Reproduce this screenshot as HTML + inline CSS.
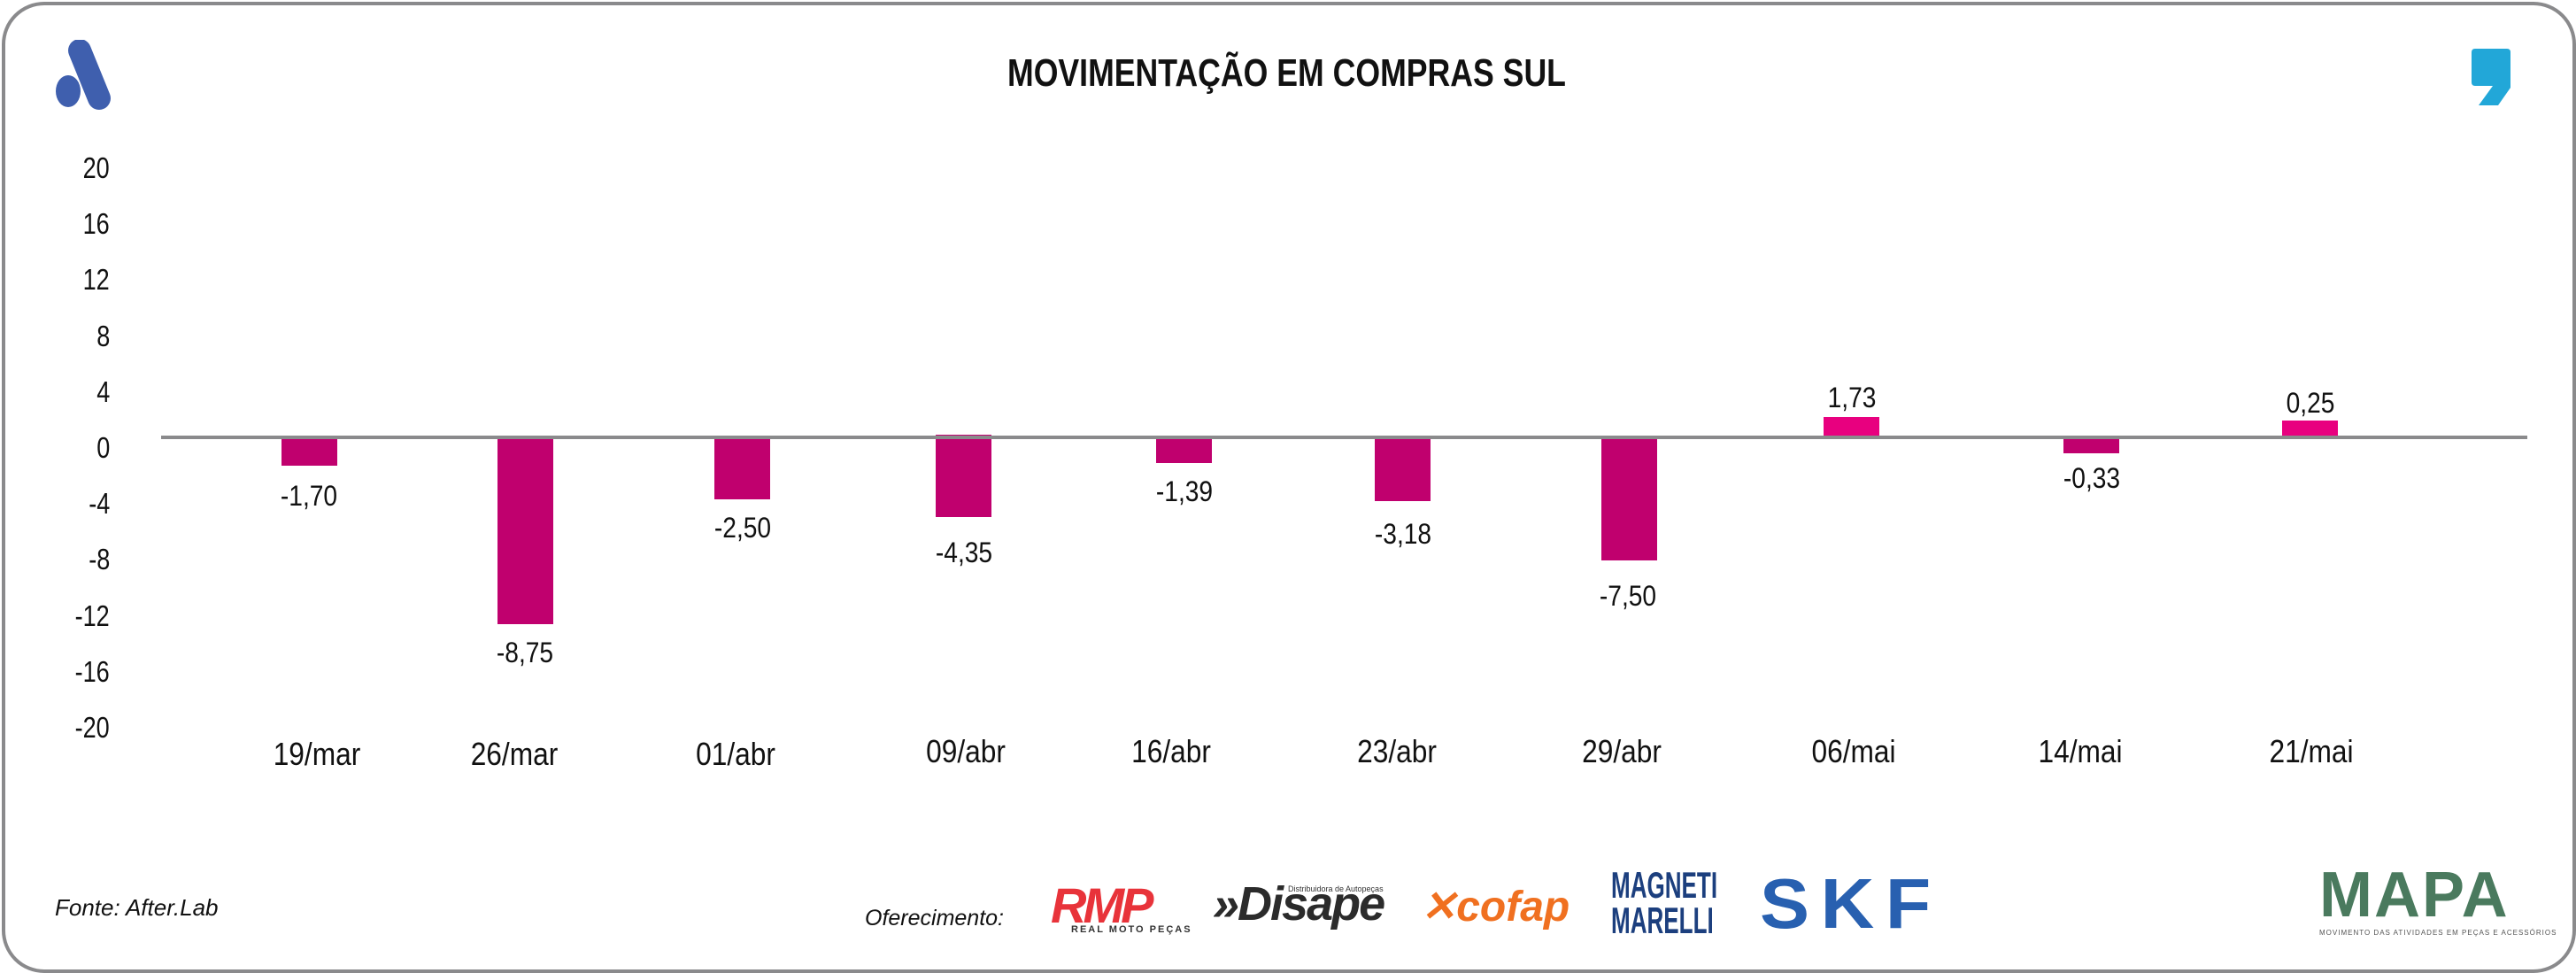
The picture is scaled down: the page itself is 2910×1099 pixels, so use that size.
<!DOCTYPE html>
<html><head><meta charset="utf-8"><style>
html,body{margin:0;padding:0;background:#fff;}
body{width:2910px;height:1099px;position:relative;overflow:hidden;font-family:"Liberation Sans",sans-serif;}
.frame{position:absolute;left:2px;top:2px;width:2900px;height:1089px;border:4px solid #8a8a8c;border-radius:48px;}
.t{position:absolute;white-space:nowrap;color:#111;}
.tick{position:absolute;right:2786px;font-size:33px;transform:scaleX(0.82);transform-origin:right center;line-height:34px;color:#111;}
.bar{position:absolute;width:63px;background:#c0006e;}
.val{position:absolute;font-size:32px;line-height:34px;width:200px;text-align:center;transform:scaleX(0.88);color:#111;}
.cat{position:absolute;font-size:36px;line-height:38px;width:240px;text-align:center;transform:scaleX(0.88);color:#111;}
</style></head><body>
<div class="frame"></div>
<svg style="position:absolute;left:60px;top:45px" width="90" height="85" viewBox="0 0 90 85">
<line x1="30" y1="12" x2="52" y2="66" stroke="#3f5fae" stroke-width="26" stroke-linecap="round"/>
<ellipse cx="17" cy="58" rx="14" ry="18" fill="#3f5fae"/>
</svg>
<svg style="position:absolute;left:2792px;top:55px" width="46" height="66" viewBox="0 0 46 66">
<path d="M4 0 H40 Q44 0 44 4 V44 L30 64 H8 L24 42 H4 Q0 42 0 38 V4 Q0 0 4 0Z" fill="#22a7d8"/>
</svg>
<div class="t" style="left:1138px;top:58px;font-size:44px;font-weight:bold;width:634px;"><span style="display:inline-block;transform:scaleX(0.81);transform-origin:left;">MOVIMENTAÇÃO EM COMPRAS SUL</span></div>
<div class="tick" style="top:173px">20</div>
<div class="tick" style="top:236px">16</div>
<div class="tick" style="top:299px">12</div>
<div class="tick" style="top:363px">8</div>
<div class="tick" style="top:426px">4</div>
<div class="tick" style="top:489px">0</div>
<div class="tick" style="top:552px">-4</div>
<div class="tick" style="top:615px">-8</div>
<div class="tick" style="top:679px">-12</div>
<div class="tick" style="top:742px">-16</div>
<div class="tick" style="top:805px">-20</div>
<div class="bar" style="left:318px;top:496px;height:30px"></div>
<div class="bar" style="left:562px;top:496px;height:209px"></div>
<div class="bar" style="left:807px;top:496px;height:68px"></div>
<div class="bar" style="left:1057px;top:491px;height:93px"></div>
<div class="bar" style="left:1306px;top:496px;height:27px"></div>
<div class="bar" style="left:1553px;top:492px;height:74px"></div>
<div class="bar" style="left:1809px;top:492px;height:141px"></div>
<div class="bar" style="left:2060px;top:471px;height:23px;background:#e8007f"></div>
<div class="bar" style="left:2331px;top:496px;height:16px"></div>
<div class="bar" style="left:2578px;top:475px;height:19px;background:#e8007f"></div>
<div style="position:absolute;left:182px;top:492px;width:2673px;height:4px;background:#8a8a8c"></div>
<div class="val" style="left:249px;top:543px">-1,70</div>
<div class="val" style="left:493px;top:720px">-8,75</div>
<div class="val" style="left:739px;top:579px">-2,50</div>
<div class="val" style="left:989px;top:607px">-4,35</div>
<div class="val" style="left:1238px;top:538px">-1,39</div>
<div class="val" style="left:1485px;top:586px">-3,18</div>
<div class="val" style="left:1739px;top:656px">-7,50</div>
<div class="val" style="left:1992px;top:432px">1,73</div>
<div class="val" style="left:2263px;top:523px">-0,33</div>
<div class="val" style="left:2510px;top:438px">0,25</div>
<div class="cat" style="left:238px;top:833px">19/mar</div>
<div class="cat" style="left:461px;top:833px">26/mar</div>
<div class="cat" style="left:711px;top:833px">01/abr</div>
<div class="cat" style="left:971px;top:830px">09/abr</div>
<div class="cat" style="left:1203px;top:830px">16/abr</div>
<div class="cat" style="left:1458px;top:830px">23/abr</div>
<div class="cat" style="left:1712px;top:830px">29/abr</div>
<div class="cat" style="left:1974px;top:830px">06/mai</div>
<div class="cat" style="left:2230px;top:830px">14/mai</div>
<div class="cat" style="left:2491px;top:830px">21/mai</div>
<div class="t" style="left:62px;top:1010px;font-size:26px;font-style:italic;">Fonte: After.Lab</div>
<div class="t" style="left:977px;top:1023px;font-size:25px;font-style:italic;">Oferecimento:</div>
<div class="t" style="left:1187px;top:990px;font-size:56px;font-weight:bold;font-style:italic;color:#e8333a;letter-spacing:-4px;">RMP</div>
<div class="t" style="left:1210px;top:1044px;font-size:11px;font-weight:bold;color:#333;letter-spacing:2px;">REAL MOTO PEÇAS</div>
<div class="t" style="left:1370px;top:990px;font-size:54px;font-weight:bold;font-style:italic;color:#2b2b2b;letter-spacing:-2px;">»Disape</div>
<div class="t" style="left:1455px;top:999px;font-size:9px;color:#333;">Distribuidora de Autopeças</div>
<div class="t" style="left:1605px;top:996px;font-size:48px;font-weight:bold;font-style:italic;color:#f07020;">✕cofap</div>
<div class="t" style="left:1820px;top:980px;font-size:42px;font-weight:bold;color:#1c3f7e;line-height:40px;transform:scaleX(0.62);transform-origin:left;">MAGNETI<br>MARELLI</div>
<div class="t" style="left:1988px;top:975px;font-size:80px;font-weight:bold;color:#2860b0;letter-spacing:12px;transform:scaleX(1.05);transform-origin:left;">SKF</div>
<div class="t" style="left:2620px;top:970px;font-size:72px;font-weight:bold;color:#4a7a5e;letter-spacing:2px;">MAPA</div>
<div class="t" style="left:2620px;top:1049px;font-size:8px;color:#555;letter-spacing:1px;">MOVIMENTO DAS ATIVIDADES EM PEÇAS E ACESSÓRIOS</div>
</body></html>
